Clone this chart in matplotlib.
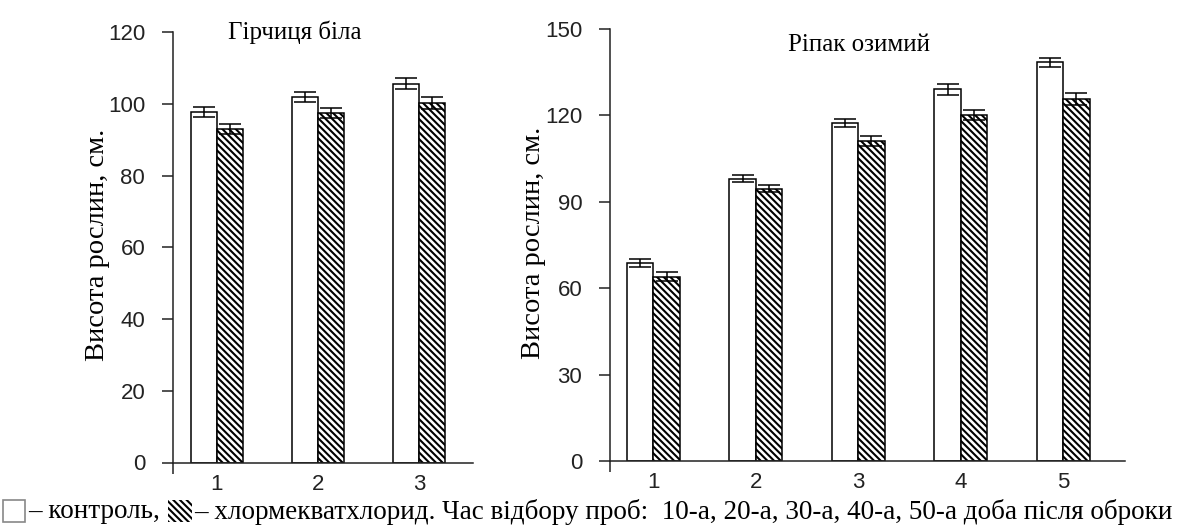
import numpy as np
import matplotlib.pyplot as plt
from matplotlib.patches import Rectangle

# --- дані ---
groups_left = [1, 2, 3]
control_left = [97.6, 101.9, 105.6]
treated_left = [93.0, 97.5, 100.2]
err_control_left = [1.4, 1.5, 1.5]
err_treated_left = [1.3, 1.4, 1.6]

groups_right = [1, 2, 3, 4, 5]
control_right = [68.8, 98.0, 117.3, 129.0, 138.4]
treated_right = [64.0, 94.5, 111.0, 120.2, 125.7]
err_control_right = [1.3, 1.2, 1.5, 2.0, 1.7]
err_treated_right = [1.5, 1.2, 1.7, 1.8, 2.0]

yticks_left = [0, 20, 40, 60, 80, 100, 120]
yticks_right = [0, 30, 60, 90, 120, 150]

title_left = "Гірчиця біла"
title_right = "Ріпак озимий"
ylabel = "Висота рослин, см."

SERIF = "Liberation Serif"
SANS = "Liberation Sans"
HATCH = '\\\\\\\\\\'
plt.rcParams['hatch.linewidth'] = 1.5
plt.rcParams['hatch.color'] = 'black'

W, H = 1184, 527
fig = plt.figure(figsize=(W / 100, H / 100), dpi=100)


def px(x, y):
    return x / W, 1 - y / H


def draw_panel(rect, groups, ctrl, trt, ectrl, etrt, yticks, xlim):
    ax = fig.add_axes(rect)
    x = np.array(groups, dtype=float)
    w = 0.257
    ax.bar(x - w / 2, ctrl, w, color='white', edgecolor='black', linewidth=1.1,
           yerr=ectrl, capsize=8, error_kw=dict(elinewidth=1.1, capthick=1.1, ecolor='black'))
    ax.bar(x + w / 2, trt, w, color='white', edgecolor='black', linewidth=1.1, hatch=HATCH,
           yerr=etrt, capsize=8, error_kw=dict(elinewidth=1.1, capthick=1.1, ecolor='black'))
    ax.set_xlim(*xlim)
    ax.set_ylim(0, yticks[-1])
    ax.set_yticks(yticks)
    ax.set_xticks(groups)
    ax.set_xticklabels([str(g) for g in groups])
    ax.set_xticks([xlim[0]], minor=True)
    ax.tick_params(axis='x', which='major', length=0, pad=8, labelsize=16, labelcolor='#222222')
    ax.tick_params(axis='x', which='minor', length=8, width=1.1, direction='out', color='#222222')
    ax.tick_params(axis='y', length=8, width=1.1, direction='out', pad=12, labelsize=16,
                   labelcolor='#222222', color='#222222')
    for lab in ax.get_xticklabels() + ax.get_yticklabels():
        lab.set_fontfamily(SANS)
    for s in ['top', 'right']:
        ax.spines[s].set_visible(False)
    for s in ['left', 'bottom']:
        ax.spines[s].set_linewidth(1.1)
        ax.spines[s].set_color('#222222')
    return ax


l0, b0 = px(173, 462.5)
l1, t0 = px(473, 32)
ax1 = draw_panel([l0, b0, l1 - l0, t0 - b0], groups_left, control_left, treated_left,
                 err_control_left, err_treated_left, yticks_left, (0.569, 3.53))

r0, b1 = px(610, 461)
r1, t1 = px(1125, 29)
ax2 = draw_panel([r0, b1, r1 - r0, t1 - b1], groups_right, control_right, treated_right,
                 err_control_right, err_treated_right, yticks_right, (0.577, 5.603))

fig.text(*px(228, 32), title_left, family=SERIF, fontsize=18, ha='left', va='center')
fig.text(*px(788, 45), title_right, family=SERIF, fontsize=18, ha='left', va='center')
fig.text(*px(97, 245), ylabel, family=SERIF, fontsize=20.5, rotation=90, ha='center', va='center')
fig.text(*px(534, 243), ylabel, family=SERIF, fontsize=20.5, rotation=90, ha='center', va='center')

# --- підпис із легендою ---
cap_y = 512
cap_size = 19.5
fig.patches.append(Rectangle(px(3, 522), 22 / W, 22 / H, transform=fig.transFigure,
                             facecolor='white', edgecolor='#888888', linewidth=1.2))
t1_ = fig.text(*px(28, cap_y), "– контроль, ", family=SERIF, fontsize=cap_size, ha='left', va='center')
fig.canvas.draw()
ext = t1_.get_window_extent()
hx = ext.x1 + 1
fig.patches.append(Rectangle((hx / W, px(0, 522)[1]), 24 / W, 22 / H, transform=fig.transFigure,
                             facecolor='white', edgecolor='black', hatch=HATCH, linewidth=0))
fig.text((hx + 26) / W, px(0, cap_y)[1],
         "– хлормекватхлорид. Час відбору проб:  10-а, 20-а, 30-а, 40-а, 50-а доба після оброки",
         family=SERIF, fontsize=cap_size, ha='left', va='center')

fig.savefig("out.png", dpi=100)
